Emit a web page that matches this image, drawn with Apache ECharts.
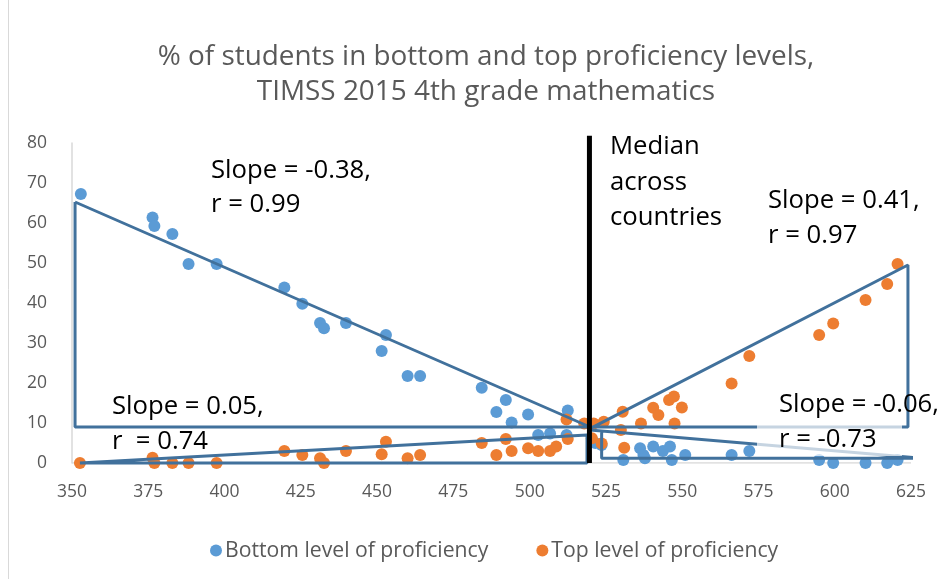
<!DOCTYPE html>
<html>
<head>
<meta charset="utf-8">
<script src="https://cdn.jsdelivr.net/npm/echarts@6/dist/echarts.min.js"></script>
<style>html,body{margin:0;padding:0;background:#fff}#c{width:951px;height:579px}</style>
</head>
<body>
<div id="c"></div>
<script>
// ---- data ----
const bottomScores = [352.9,376.4,377.0,382.9,388.2,397.4,419.6,425.5,431.3,432.6,439.8,451.5,452.9,460.0,464.1,484.3,489.1,492.2,494.1,499.5,502.8,506.7,512.1,512.5,521.5,523.6,530.7,536.2,537.3,537.8,540.5,543.7,546.0,546.6,551.0,566.2,572.0,594.9,599.5,610.1,617.2,620.6];
const bottomPct    = [67.25,61.4,59.25,57.25,49.75,49.75,43.9,39.8,35,33.7,35,28,32,21.75,21.75,18.8,12.75,15.75,10.1,12.1,7,7.4,7,13.1,5,4.5,0.75,3.7,2,1.2,4.1,3,4.1,0.75,2,2,3,0.75,0,0,0,0.75];
const topScores    = [352.6,376.4,377.0,382.9,388.2,397.4,419.6,425.5,431.3,432.6,439.8,451.5,452.9,460.0,464.1,484.3,489.1,492.2,494.1,499.5,502.8,506.7,508.7,512.1,512.5,517.9,521.0,520.4,524.3,523.6,529.9,530.5,531.0,536.5,540.5,542.2,545.7,547.3,547.5,549.9,566.2,572.0,594.9,599.5,610.1,617.2,620.6];
const topPct       = [0,1.3,0,0,0,0,3,2,1.2,0,3,2.2,5.3,1.2,2,5,2,6,3,3.7,3,3,4.1,10.9,6,9.9,9.9,6.2,10.3,4.9,8.25,12.8,3.8,9.9,13.8,12,15.75,16.6,9.9,13.9,19.9,26.75,32,34.9,40.75,44.75,49.75];
const medianScore = 519.6;
const xTicks = {min:350, max:625, step:25};
const yTicks = {min:0, max:80, step:10};
// trend line triangles (score, percent)
const trendBottomLow  = [[351,65.25],[519.8,9],[351,9],[351,65.25]];
const trendTopHigh    = [[519.8,8.6],[624,49.5],[624,9],[519.8,9]];
const trendTopLow     = [[352.6,0],[518.8,7],[518.8,0],[352.6,0]];
const trendBottomHigh = [[519.8,8.25],[628,1.2],[523.6,1.2],[523.6,8.0]];
const seriesNames = ['Bottom level of proficiency','Top level of proficiency'];

const FONT = '"Open Sans", sans-serif';
const chart = echarts.init(document.getElementById('c'), null, {renderer:'canvas'});
const zip = (a,b)=>a.map((v,i)=>[v,b[i]]);
const trendStyle = {color:'#41719C', width:3};
function trend(d){
  return {type:'line', data:d, symbol:'none', clip:false, silent:true, z:5,
    lineStyle:trendStyle, itemStyle:{color:'#41719C'}, animation:false};
}
function txt(t,x,y,size,color){
  return {type:'text', x:x, y:y, z:100, style:{text:t, fontSize:size, fontFamily:FONT, fill:color||'#000', verticalAlign:'middle', align:'left'}};
}
function ctxt(t,x,y,size,color){
  return {type:'text', x:x, y:y, z:100, style:{text:t, fontSize:size, fontFamily:FONT, fill:color||'#595959', verticalAlign:'middle', align:'center'}};
}
const AS = 25.7, TS = 27.9;
chart.setOption({
  animation:false,
  grid:{left:72, right:40, top:143, bottom:116},
  xAxis:{type:'value', min:xTicks.min, max:xTicks.max, interval:xTicks.step,
    axisLine:{show:false}, axisTick:{show:false}, splitLine:{show:false},
    axisLabel:{color:'#595959', fontSize:17.5, fontFamily:FONT, margin:20}},
  yAxis:{type:'value', min:yTicks.min, max:yTicks.max, interval:yTicks.step,
    axisLine:{show:true, lineStyle:{color:'#d9d9d9', width:1.5}}, axisTick:{show:false}, splitLine:{show:false},
    axisLabel:{color:'#595959', fontSize:17.5, fontFamily:FONT, margin:25}},
  legend:{data:seriesNames, left:205, top:535, icon:'circle', itemWidth:12, itemHeight:12, itemGap:48,
    textStyle:{color:'#595959', fontSize:21.2, fontFamily:FONT, padding:[0,0,0,-2]}},
  series:[
    {type:'line', data:[[xTicks.min,0],[xTicks.max,0]], symbol:'none', silent:true, z:1,
      lineStyle:{color:'#d9d9d9', width:1.5}},
    {name:seriesNames[0], type:'scatter', data:zip(bottomScores,bottomPct), symbolSize:12, z:2,
      itemStyle:{color:'#5B9BD5', opacity:1}},
    {name:seriesNames[1], type:'scatter', data:zip(topScores,topPct), symbolSize:12, z:3,
      itemStyle:{color:'#ED7D31', opacity:1}},
    trend(trendBottomLow), trend(trendTopHigh), trend(trendTopLow), trend(trendBottomHigh),
    {type:'line', data:[[medianScore,0],[medianScore,81.8]], symbol:'none', clip:false, silent:true, z:6,
      lineStyle:{color:'#000', width:5}}
  ],
  graphic:[
    {type:'line', shape:{x1:8.5,y1:0,x2:8.5,y2:579}, style:{stroke:'#d9d9d9', lineWidth:1}, z:0},
    ctxt('% of students in bottom and top proficiency levels,', 486, 57, TS),
    ctxt('TIMSS 2015 4th grade mathematics', 486, 92, TS),
    {type:'rect', shape:{x:757, y:390, width:145, height:66}, style:{fill:'rgba(255,255,255,0.7)'}, z:50},
    txt('Slope = -0.38,', 211, 171, AS), txt('r = 0.99', 211, 205, AS),
    txt('Median', 610, 147, AS), txt('across', 610, 183, AS), txt('countries', 610, 218, AS),
    txt('Slope = 0.41,', 768, 201, AS), txt('r = 0.97', 768, 236, AS),
    txt('Slope = 0.05,', 112, 407, AS), txt('r  = 0.74', 112, 442, AS),
    txt('Slope = -0.06,', 779, 405, AS), txt('r = -0.73', 779, 440, AS)
  ]
});
</script>
</body>
</html>
